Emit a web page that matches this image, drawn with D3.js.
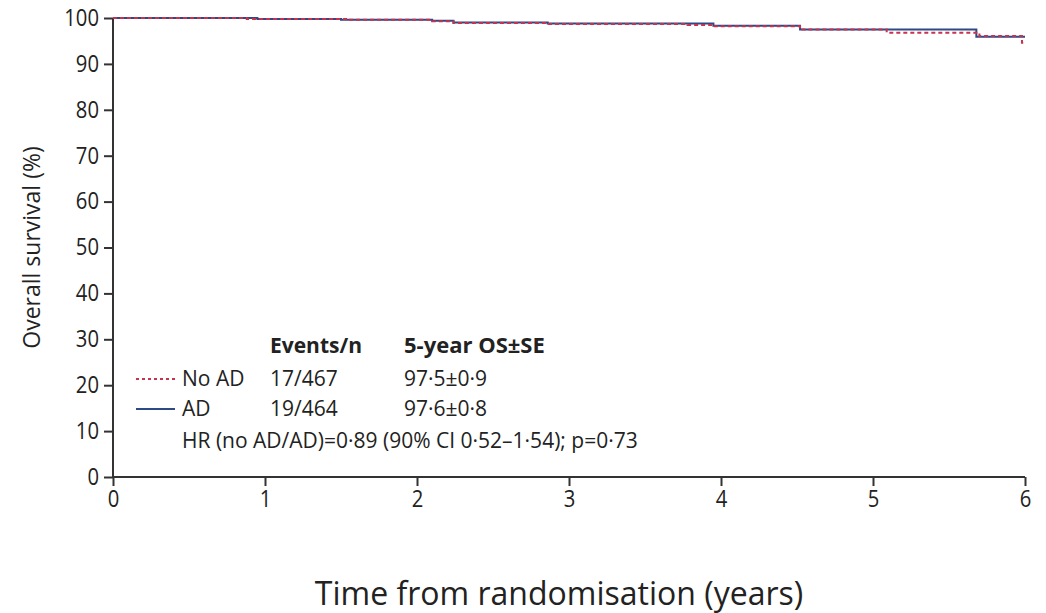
<!DOCTYPE html>
<html>
<head>
<meta charset="utf-8">
<script src="https://cdn.jsdelivr.net/npm/d3@7"></script>
<style>
  html, body { margin: 0; padding: 0; background: #fff; }
  svg { display: block; }
  text { font-family: "Open Sans", "Noto Sans", sans-serif; fill: #222; }
</style>
</head>
<body>
<svg id="chart" width="1046" height="613"></svg>
<script>
// ---- data ----
const xTicks = [0, 1, 2, 3, 4, 5, 6];
const yTicks = [0, 10, 20, 30, 40, 50, 60, 70, 80, 90, 100];

// Kaplan-Meier step curves (time in years, survival %)
const adTimes     = [0, 0.95, 1.50, 2.10, 2.24, 2.86, 3.95, 4.52, 5.68, 6.00];
const adSurv      = [100, 99.8, 99.6, 99.4, 99.0, 98.8, 98.3, 97.5, 95.9, 95.9];
const noAdTimes   = [0, 0.88, 1.55, 2.10, 2.24, 2.86, 3.78, 3.95, 4.52, 5.09, 5.70, 5.98, 6.00];
const noAdSurv    = [100, 99.8, 99.6, 99.3, 98.9, 98.7, 98.5, 98.2, 97.5, 96.8, 96.1, 94.6, 94.6];

const legendGroups = ["No AD", "AD"];
const legendEvents = ["17/467", "19/464"];
const legendOS     = ["97·5±0·9", "97·6±0·8"];
const headerEvents = "Events/n";
const headerOS     = "5-year OS±SE";
const hrText       = "HR (no AD/AD)=0·89 (90% CI 0·52–1·54); p=0·73";
const xTitle       = "Time from randomisation (years)";
const yTitle       = "Overall survival (%)";

// ---- drawing ----
const svg = d3.select("#chart");
const x = d3.scaleLinear().domain([0, 6]).range([113, 1025]);
const y = d3.scaleLinear().domain([0, 100]).range([477, 18]);

const axisColor = "#333";
const tickFont = "23px";
const tickSx = 0.88;

// y axis
const yAxis = svg.append("g")
  .attr("transform", `translate(${x(0)},0)`)
  .call(d3.axisLeft(y).tickValues(yTicks).tickSize(9).tickPadding(5).tickFormat(d3.format("d")));
yAxis.select(".domain").attr("stroke", axisColor).attr("stroke-width", 2).attr("d", `M0,${y(100)}V${y(0)}`);
yAxis.selectAll(".tick line").attr("stroke", axisColor).attr("stroke-width", 2);
yAxis.selectAll(".tick text")
  .style("font-family", '"Open Sans", sans-serif')
  .style("font-size", tickFont).attr("fill", "#333")
  .attr("x", -14 / tickSx)
  .attr("transform", `scale(${tickSx},1)`);

// x axis
const xAxis = svg.append("g")
  .attr("transform", `translate(0,${y(0)})`)
  .call(d3.axisBottom(x).tickValues(xTicks).tickSize(9).tickPadding(5).tickFormat(d3.format("d")));
xAxis.select(".domain").attr("stroke", axisColor).attr("stroke-width", 2).attr("d", `M${x(0)},0H${x(6)}`);
xAxis.selectAll(".tick line").attr("stroke", axisColor).attr("stroke-width", 2);
xAxis.selectAll(".tick text")
  .style("font-family", '"Open Sans", sans-serif')
  .style("font-size", tickFont).attr("fill", "#333")
  .attr("transform", `scale(${tickSx},1)`);

// curves
const stepLine = d3.line().curve(d3.curveStepAfter)
  .x(d => x(d[0])).y(d => y(d[1]));
const adData = adTimes.map((t, i) => [t, adSurv[i]]);
const noAdData = noAdTimes.map((t, i) => [t, noAdSurv[i]]);

svg.append("path").datum(adData)
  .attr("d", stepLine).attr("fill", "none")
  .attr("stroke", "#2e4a86").attr("stroke-width", 2);
svg.append("path").datum(noAdData)
  .attr("d", stepLine).attr("fill", "none")
  .attr("stroke", "#c8324e").attr("stroke-width", 2)
  .attr("stroke-dasharray", "4,3");

// legend table
const lg = svg.append("g");
const fs = "21px";
lg.append("text").attr("x", 270).attr("y", 353).text(headerEvents)
  .style("font-size", fs).style("font-weight", "bold");
lg.append("text").attr("x", 404).attr("y", 353).text(headerOS)
  .style("font-size", "22px").style("font-weight", "bold");

const rowY = [386, 416];
const lineStyles = [
  { stroke: "#c8324e", dash: "3,3" },
  { stroke: "#2e4a86", dash: null }
];
legendGroups.forEach((g, i) => {
  const ly = rowY[i] - 7;
  const l = lg.append("line").attr("x1", 136).attr("x2", 175)
    .attr("y1", ly).attr("y2", ly)
    .attr("stroke", lineStyles[i].stroke).attr("stroke-width", 2);
  if (lineStyles[i].dash) l.attr("stroke-dasharray", lineStyles[i].dash);
  lg.append("text").attr("x", 182).attr("y", rowY[i]).text(g).style("font-size", fs);
  lg.append("text").attr("x", 270).attr("y", rowY[i]).text(legendEvents[i]).style("font-size", fs);
  lg.append("text").attr("x", 404).attr("y", rowY[i]).text(legendOS[i]).style("font-size", fs);
});
lg.append("text").attr("x", 182).attr("y", 448).text(hrText).style("font-size", fs);

// axis titles
svg.append("text")
  .attr("transform", `translate(40,${y(50)}) rotate(-90)`)
  .attr("text-anchor", "middle")
  .style("font-size", "23px").attr("fill", "#333")
  .text(yTitle);
svg.append("text")
  .attr("x", 559).attr("y", 605)
  .attr("text-anchor", "middle")
  .style("font-size", "32px").attr("fill", "#333")
  .text(xTitle);
</script>
</body>
</html>
